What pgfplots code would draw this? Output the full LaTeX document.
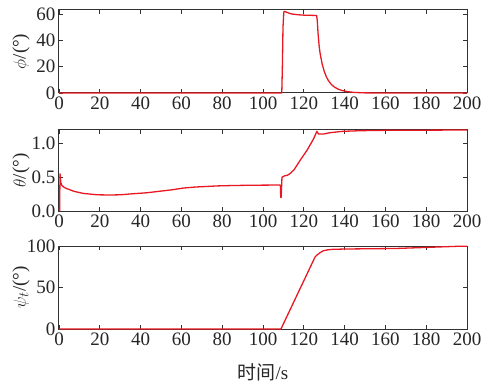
\documentclass[border=0pt]{standalone}
\usepackage{fontspec}
\setmainfont{Liberation Serif}
\newfontfamily\cjk{Noto Sans CJK SC}
\usepackage{pgfplots}
\pgfplotsset{compat=1.18}
\definecolor{lred}{RGB}{232,24,34}
\definecolor{frame}{RGB}{50,50,50}
\pgfkeys{/pgf/number format/assume math mode=true}
\pgfplotsset{
  myax/.style={
    scale only axis, width=408pt,
    xmin=0, xmax=200, xtick={0,20,...,200},
    axis line style={frame, line width=1pt},
    tick style={frame, line width=0.7pt},
    tick align=inside, major tick length=4pt,
    xticklabel={\pgfmathprintnumber[assume math mode=true]{\tick}},
    ticklabel style={font=\fontsize{19}{20}\selectfont, text=black!85},
    every axis y label/.style={at={(rel axis cs:0,0.5)}, xshift=-38pt, rotate=90, anchor=center, font=\fontsize{19}{20}\selectfont, text=black!85},
    clip=false,
  },
  mypl/.style={lred, line width=1.3pt, mark=none, line join=round}
}
\begin{document}
\begin{tikzpicture}
\path[use as bounding box] (0,0) rectangle (486pt,386pt);
% top: phi
\begin{axis}[myax, at={(59pt,293pt)}, anchor=south west, height=83pt,
  ymin=0, ymax=63, ytick={0,20,40,60},
  yticklabel={\pgfmathprintnumber[assume math mode=true]{\tick}},
  ylabel={$\phi$/(°)}]
\addplot[mypl] coordinates {(0,0) (109.2,0) (109.5,20) (109.8,50) (110.2,61.5) (110.6,62) (112,61) (114,60) (117,59.4) (120,59.1) (123,59) (126.3,58.8) (126.6,55) (127,45) (127.5,36) (128,30) (129,22) (130,16.5) (131,12.5) (132,9.5) (133.5,6.5) (135,4.5) (137,2.8) (139,1.8) (142,0.9) (145,0.4) (150,0.1) (160,0) (200,0)};
\end{axis}
% middle: theta
\begin{axis}[myax, at={(59pt,175pt)}, anchor=south west, height=81pt,
  ymin=0, ymax=1.2, ytick={0,0.5,1.0},
  yticklabel={\pgfmathprintnumber[assume math mode=true,fixed,fixed zerofill,precision=1]{\tick}},
  ylabel={$\theta$/(°)}]
\addplot[mypl] coordinates {(0.3,0) (0.5,0.55) (0.9,0.42) (1.4,0.38) (2.5,0.35) (4,0.33) (7.5,0.29) (12,0.26) (18.8,0.24) (25,0.237) (30,0.24) (36,0.255) (43,0.27) (50,0.295) (55.6,0.315) (61,0.34) (66.8,0.355) (70,0.36) (78,0.372) (86,0.378) (95,0.382) (108.5,0.385) (108.7,0.2) (108.9,0.2) (109.3,0.5) (110.5,0.52) (112,0.53) (113.5,0.56) (115.2,0.61) (118.4,0.76) (121.6,0.9) (124.8,1.07) (126.4,1.18) (127.2,1.14) (129.6,1.14) (132.8,1.16) (139,1.18) (148,1.19) (160,1.195) (200,1.2)};
\end{axis}
% bottom: psi
\begin{axis}[myax, at={(59pt,57pt)}, anchor=south west, height=83pt,
  ymin=0, ymax=100, ytick={0,50,100},
  yticklabel={\pgfmathprintnumber[assume math mode=true]{\tick}},
  ylabel={$\psi_t$/(°)},
  xlabel={{\cjk 时间}/s},
  every axis x label/.style={at={(rel axis cs:0.5,0)}, yshift=-43pt, anchor=center, font=\fontsize{19}{20}\selectfont, text=black!85}]
\addplot[mypl] coordinates {(0,0) (108.8,0) (124.8,83) (125.6,87) (126.4,89) (128,92) (129.6,94.3) (132,95.5) (134.4,96) (140.7,96.4) (165,97) (195,99.6) (200,99.8)};
\end{axis}
\end{tikzpicture}
\end{document}
